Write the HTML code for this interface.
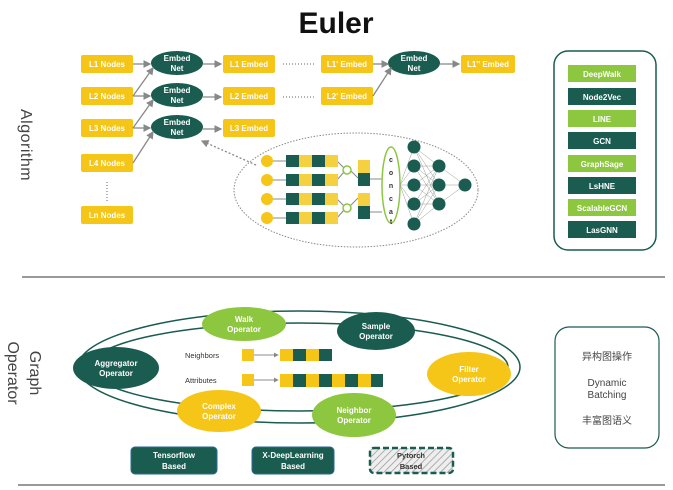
<!DOCTYPE html>
<html><head><meta charset="utf-8"><style>
html,body{margin:0;padding:0;background:#fff;}
svg{display:block;font-family:"Liberation Sans","Noto Sans CJK SC",sans-serif;}
.b{font-weight:bold;font-size:8px;fill:#fff;text-anchor:middle;}
</style></head><body>
<svg width="673" height="490" viewBox="0 0 673 490" xmlns="http://www.w3.org/2000/svg">
<defs>
<marker id="ar" markerWidth="6" markerHeight="6" refX="5" refY="3" orient="auto"><path d="M0,0 L6,3 L0,6 z" fill="#888"/></marker>
<pattern id="hatch" width="5" height="5" patternUnits="userSpaceOnUse" patternTransform="rotate(45)"><rect width="5" height="5" fill="#eee"/><line x1="0" y1="0" x2="0" y2="5" stroke="#999" stroke-width="1.5"/></pattern>
</defs>
<text x="336" y="33" font-size="30" font-weight="bold" text-anchor="middle" fill="#111">Euler</text>
<text transform="translate(21,145) rotate(90)" font-size="16" text-anchor="middle" fill="#444" letter-spacing="0.5">Algorithm</text>
<text transform="translate(30,373) rotate(90)" font-size="16" text-anchor="middle" fill="#444">Graph</text>
<text transform="translate(8,373) rotate(90)" font-size="16" text-anchor="middle" fill="#444">Operator</text>

<!-- left nodes -->
<g fill="#f5c518">
<rect x="81" y="55" width="52" height="18" rx="2"/>
<rect x="81" y="87" width="52" height="18" rx="2"/>
<rect x="81" y="119" width="52" height="18" rx="2"/>
<rect x="81" y="154" width="52" height="18" rx="2"/>
<rect x="81" y="206" width="52" height="18" rx="2"/>
<rect x="223" y="55" width="52" height="18" rx="2"/>
<rect x="223" y="87" width="52" height="18" rx="2"/>
<rect x="223" y="119" width="52" height="18" rx="2"/>
<rect x="321" y="55" width="52" height="18" rx="2"/>
<rect x="321" y="87" width="52" height="18" rx="2"/>
<rect x="461" y="55" width="54" height="18" rx="2"/>
</g>
<g class="b">
<text x="107" y="67">L1 Nodes</text><text x="107" y="99">L2 Nodes</text><text x="107" y="131">L3 Nodes</text>
<text x="107" y="166">L4 Nodes</text><text x="107" y="218">Ln Nodes</text>
<text x="249" y="67">L1 Embed</text><text x="249" y="99">L2 Embed</text><text x="249" y="131">L3 Embed</text>
<text x="347" y="67">L1' Embed</text><text x="347" y="99">L2' Embed</text><text x="488" y="67">L1'' Embed</text>
</g>
<line x1="107" y1="182" x2="107" y2="202" stroke="#666" stroke-dasharray="1,2"/>
<line x1="283" y1="64" x2="315" y2="64" stroke="#666" stroke-dasharray="1,2"/>
<line x1="283" y1="97" x2="315" y2="97" stroke="#666" stroke-dasharray="1,2"/>
<g fill="#1a5c50">
<ellipse cx="177" cy="63" rx="26" ry="12"/><ellipse cx="177" cy="95" rx="26" ry="12"/><ellipse cx="177" cy="127" rx="26" ry="12"/>
<ellipse cx="414" cy="63" rx="26" ry="12"/>
</g>
<g class="b" font-size="7.5">
<text x="177" y="61">Embed</text><text x="177" y="71">Net</text>
<text x="177" y="93">Embed</text><text x="177" y="103">Net</text>
<text x="177" y="125">Embed</text><text x="177" y="135">Net</text>
<text x="414" y="61">Embed</text><text x="414" y="71">Net</text>
</g>
<g stroke="#888" stroke-width="1.3" fill="none" marker-end="url(#ar)">
<line x1="133" y1="64" x2="150" y2="64"/>
<line x1="133" y1="96" x2="153" y2="68"/><line x1="133" y1="96" x2="150" y2="96"/>
<line x1="133" y1="128" x2="153" y2="100"/><line x1="133" y1="128" x2="150" y2="128"/>
<line x1="133" y1="163" x2="153" y2="132"/>
<line x1="203" y1="64" x2="221" y2="64"/><line x1="203" y1="97" x2="221" y2="97"/><line x1="203" y1="129" x2="221" y2="129"/>
<line x1="373" y1="64" x2="388" y2="64"/><line x1="373" y1="96" x2="391" y2="68"/>
<line x1="440" y1="64" x2="459" y2="64"/>
<line x1="256" y1="165" x2="202" y2="141" stroke-dasharray="2,2"/>
</g>

<!-- detail ellipse -->
<ellipse cx="356" cy="190" rx="122" ry="57" fill="none" stroke="#888" stroke-dasharray="1.5,1.5"/>
<g fill="#f5c518"><circle cx="267" cy="161" r="6"/><circle cx="267" cy="180" r="6"/><circle cx="267" cy="199" r="6"/><circle cx="267" cy="218" r="6"/></g>
<g stroke="#888" stroke-width="1">
<line x1="273" y1="161" x2="286" y2="161"/><line x1="273" y1="180" x2="286" y2="180"/><line x1="273" y1="199" x2="286" y2="199"/><line x1="273" y1="218" x2="286" y2="218"/>
<line x1="337" y1="161" x2="344" y2="168"/><line x1="337" y1="180" x2="344" y2="172"/><line x1="350" y1="170" x2="358" y2="178"/>
<line x1="337" y1="199" x2="344" y2="206"/><line x1="337" y1="218" x2="344" y2="210"/><line x1="350" y1="206" x2="358" y2="198"/>
<line x1="370" y1="179" x2="382" y2="179"/><line x1="370" y1="212" x2="382" y2="212"/>
</g>
<g>
<g transform="translate(286,155)"><rect width="13" height="12" fill="#1a5c50"/><rect x="13" width="13" height="12" fill="#f5d040"/><rect x="26" width="13" height="12" fill="#1a5c50"/><rect x="39" width="13" height="12" fill="#f5d040"/></g>
<g transform="translate(286,174)"><rect width="13" height="12" fill="#1a5c50"/><rect x="13" width="13" height="12" fill="#f5d040"/><rect x="26" width="13" height="12" fill="#1a5c50"/><rect x="39" width="13" height="12" fill="#f5d040"/></g>
<g transform="translate(286,193)"><rect width="13" height="12" fill="#1a5c50"/><rect x="13" width="13" height="12" fill="#f5d040"/><rect x="26" width="13" height="12" fill="#1a5c50"/><rect x="39" width="13" height="12" fill="#f5d040"/></g>
<g transform="translate(286,212)"><rect width="13" height="12" fill="#1a5c50"/><rect x="13" width="13" height="12" fill="#f5d040"/><rect x="26" width="13" height="12" fill="#1a5c50"/><rect x="39" width="13" height="12" fill="#f5d040"/></g>
</g>
<circle cx="347" cy="170" r="4" fill="#fff" stroke="#8dc63f" stroke-width="1.5"/>
<circle cx="347" cy="208" r="4" fill="#fff" stroke="#8dc63f" stroke-width="1.5"/>
<rect x="358" y="160" width="12" height="13" fill="#f5d040"/><rect x="358" y="173" width="12" height="13" fill="#1a5c50"/>
<rect x="358" y="193" width="12" height="13" fill="#f5d040"/><rect x="358" y="206" width="12" height="13" fill="#1a5c50"/>
<ellipse cx="391" cy="185" rx="9" ry="38" fill="#fff" stroke="#8dc63f" stroke-width="1.5"/>
<g font-size="7" font-weight="bold" text-anchor="middle" fill="#333">
<text x="391" y="162">c</text><text x="391" y="175">o</text><text x="391" y="188">n</text><text x="391" y="201">c</text><text x="391" y="214">a</text><text x="391" y="224">t</text>
</g>
<g stroke="#999" stroke-width="0.5">
<line x1="400" y1="185" x2="414" y2="147"/><line x1="400" y1="185" x2="414" y2="166"/><line x1="400" y1="185" x2="414" y2="185"/><line x1="400" y1="185" x2="414" y2="204"/><line x1="400" y1="185" x2="414" y2="224"/>
<path d="M414,147L439,166M414,147L439,185M414,147L439,204M414,166L439,166M414,166L439,185M414,166L439,204M414,185L439,166M414,185L439,185M414,185L439,204M414,204L439,166M414,204L439,185M414,204L439,204M414,224L439,166M414,224L439,185M414,224L439,204M439,166L465,185M439,185L465,185M439,204L465,185"/>
</g>
<g fill="#1a5c50">
<circle cx="414" cy="147" r="6.5"/><circle cx="414" cy="166" r="6.5"/><circle cx="414" cy="185" r="6.5"/><circle cx="414" cy="204" r="6.5"/><circle cx="414" cy="224" r="6.5"/>
<circle cx="439" cy="166" r="6.5"/><circle cx="439" cy="185" r="6.5"/><circle cx="439" cy="204" r="6.5"/>
<circle cx="465" cy="185" r="6.5"/>
</g>

<!-- right panel -->
<rect x="554" y="51" width="102" height="199" rx="14" fill="#fff" stroke="#1a5c50" stroke-width="1.5"/>
<g>
<rect x="568" y="65" width="68" height="17" fill="#8dc63f"/><rect x="568" y="88" width="68" height="17" fill="#1a5c50"/>
<rect x="568" y="110" width="68" height="17" fill="#8dc63f"/><rect x="568" y="132" width="68" height="17" fill="#1a5c50"/>
<rect x="568" y="155" width="68" height="17" fill="#8dc63f"/><rect x="568" y="177" width="68" height="17" fill="#1a5c50"/>
<rect x="568" y="199" width="68" height="17" fill="#8dc63f"/><rect x="568" y="221" width="68" height="17" fill="#1a5c50"/>
</g>
<g class="b">
<text x="602" y="77">DeepWalk</text><text x="602" y="100">Node2Vec</text><text x="602" y="122">LINE</text><text x="602" y="144">GCN</text>
<text x="602" y="167">GraphSage</text><text x="602" y="189">LsHNE</text><text x="602" y="211">ScalableGCN</text><text x="602" y="233">LasGNN</text>
</g>

<line x1="22" y1="277" x2="665" y2="277" stroke="#999" stroke-width="2"/>
<line x1="18" y1="485" x2="665" y2="485" stroke="#999" stroke-width="2"/>

<!-- ring -->
<ellipse cx="299" cy="367" rx="221" ry="56" fill="none" stroke="#1a5c50" stroke-width="1.5"/>
<ellipse cx="299" cy="367" rx="209" ry="44" fill="none" stroke="#1a5c50" stroke-width="1.5"/>
<ellipse cx="244" cy="324" rx="42" ry="17" fill="#8dc63f"/>
<ellipse cx="376" cy="331" rx="39" ry="19" fill="#1a5c50"/>
<ellipse cx="116" cy="368" rx="43" ry="21" fill="#1a5c50"/>
<ellipse cx="469" cy="374" rx="42" ry="22" fill="#f5c518"/>
<ellipse cx="219" cy="411" rx="42" ry="21" fill="#f5c518"/>
<ellipse cx="354" cy="415" rx="42" ry="22" fill="#8dc63f"/>
<g class="b" font-size="7.5">
<text x="244" y="322">Walk</text><text x="244" y="332">Operator</text>
<text x="376" y="329">Sample</text><text x="376" y="339">Operator</text>
<text x="116" y="366">Aggregator</text><text x="116" y="376">Operator</text>
<text x="469" y="372">Filter</text><text x="469" y="382">Operator</text>
<text x="219" y="409">Complex</text><text x="219" y="419">Operator</text>
<text x="354" y="413">Neighbor</text><text x="354" y="423">Operator</text>
</g>
<text x="185" y="358" font-size="7.5" fill="#333">Neighbors</text>
<text x="185" y="383" font-size="7.5" fill="#333">Attributes</text>
<rect x="242" y="349" width="12" height="12" fill="#f5c518"/>
<rect x="242" y="374" width="12" height="12" fill="#f5c518"/>
<g stroke="#666" stroke-width="0.8" marker-end="url(#ar)"><line x1="254" y1="355" x2="278" y2="355"/><line x1="254" y1="380" x2="278" y2="380"/></g>
<g transform="translate(280,349)">
<rect width="13" height="12" fill="#f5c518"/><rect x="13" width="13" height="12" fill="#1a5c50"/><rect x="26" width="13" height="12" fill="#f5c518"/><rect x="39" width="13" height="12" fill="#1a5c50"/>
</g>
<g transform="translate(280,374)">
<rect width="13" height="13" fill="#f5c518"/><rect x="13" width="13" height="13" fill="#1a5c50"/><rect x="26" width="13" height="13" fill="#f5c518"/><rect x="39" width="13" height="13" fill="#1a5c50"/>
<rect x="52" width="13" height="13" fill="#f5c518"/><rect x="65" width="13" height="13" fill="#1a5c50"/><rect x="78" width="13" height="13" fill="#f5c518"/><rect x="91" width="12" height="13" fill="#1a5c50"/>
</g>

<rect x="131" y="447" width="86" height="27" rx="4" fill="#1a5c50" stroke="#2a6a9a" stroke-width="1"/>
<rect x="252" y="447" width="82" height="27" rx="4" fill="#1a5c50" stroke="#2a6a9a" stroke-width="1"/>
<rect x="370" y="448" width="83" height="25" rx="4" fill="url(#hatch)" stroke="#1a5c50" stroke-width="2.5" stroke-dasharray="6,3"/>
<g class="b" font-size="7.5">
<text x="174" y="458">Tensorflow</text><text x="174" y="469">Based</text>
<text x="293" y="458">X-DeepLearning</text><text x="293" y="469">Based</text>
</g>
<g font-size="7.5" font-weight="bold" text-anchor="middle" fill="#333">
<text x="411" y="458">Pytorch</text><text x="411" y="469">Based</text>
</g>

<rect x="555" y="327" width="104" height="121" rx="14" fill="#fff" stroke="#1a5c50" stroke-width="1.2"/>
<g font-size="10" fill="#444" text-anchor="middle">
<text x="607" y="360">异构图操作</text>
<text x="607" y="386">Dynamic</text><text x="607" y="398">Batching</text>
<text x="607" y="424">丰富图语义</text>
</g>
</svg>
</body></html>
